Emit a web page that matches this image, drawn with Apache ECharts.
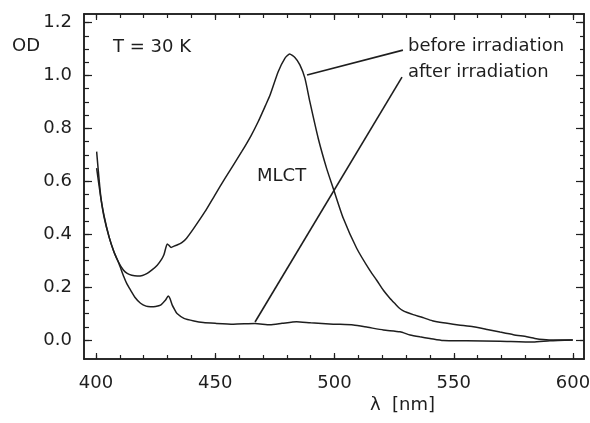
<!DOCTYPE html>
<html><head><meta charset="utf-8">
<script src="https://cdn.jsdelivr.net/npm/echarts@6/dist/echarts.min.js"></script>
<style>html,body{margin:0;padding:0;background:#fff}#c{width:590px;height:423px}</style>
</head><body><div id="c"></div>
<script>
// ---- data ----
const wavelengthBefore = [400.3, 402, 403.4, 405.5, 407.5, 409.6, 411.5, 413.1, 415, 417.3, 419.5, 421.5, 423.5, 425.7, 427.5, 428.5, 429.9, 430.6, 431.5, 433, 434, 436, 438, 441, 445.7, 450, 454.1, 461.1, 465, 468, 471, 473, 476.4, 479.2, 481.2, 483.4, 485.5, 487.6, 489.7, 493.2, 496.7, 499.5, 503.7, 509.3, 514.9, 517.7, 520.5, 523.3, 525.5, 527, 528.5, 530.5, 533, 537, 541, 545.6, 552, 558.2, 564, 569.4, 575, 580.6, 584, 587.5, 592, 596, 599.9];
const odBefore = [0.712, 0.545, 0.47, 0.39, 0.335, 0.292, 0.265, 0.252, 0.245, 0.242, 0.244, 0.252, 0.265, 0.283, 0.305, 0.322, 0.363, 0.358, 0.35, 0.356, 0.359, 0.368, 0.385, 0.422, 0.485, 0.55, 0.611, 0.712, 0.772, 0.825, 0.885, 0.926, 1.014, 1.065, 1.081, 1.068, 1.04, 0.99, 0.9, 0.762, 0.649, 0.573, 0.46, 0.347, 0.262, 0.226, 0.188, 0.157, 0.136, 0.122, 0.112, 0.104, 0.096, 0.085, 0.073, 0.065, 0.057, 0.05, 0.04, 0.03, 0.02, 0.012, 0.006, 0.002, 0.0, 0.0, 0.0];
const wavelengthAfter = [400.3, 402, 403.4, 405.5, 407.5, 409.6, 411.7, 413, 414.5, 416.5, 418.7, 421, 422.9, 425, 427.1, 429.2, 430.3, 431, 432, 433, 434, 436.9, 441.1, 445, 450, 457.6, 466.7, 473, 478, 484.1, 490, 499.5, 507.9, 514, 520.5, 527.5, 531.7, 535.8, 540, 545.6, 555.4, 569.4, 583.3, 590.3, 599.9];
const odAfter = [0.65, 0.54, 0.465, 0.39, 0.335, 0.29, 0.239, 0.212, 0.189, 0.16, 0.139, 0.128, 0.126, 0.127, 0.132, 0.151, 0.166, 0.158, 0.132, 0.115, 0.1, 0.082, 0.072, 0.066, 0.063, 0.06, 0.062, 0.058, 0.063, 0.069, 0.065, 0.06, 0.057, 0.048, 0.038, 0.031, 0.019, 0.012, 0.006, -0.002, -0.003, -0.005, -0.008, -0.003, 0.0];
// leader lines of the annotations (data units)
const leaderBefore = [[488.5, 1.002], [528.7, 1.096]];
const leaderAfter = [[466.7, 0.068], [528.3, 0.994]];
// tick positions / labels
const xMajorTicks = [400, 450, 500, 550, 600];
const xMinorTicks = [400, 410, 420, 430, 440, 450, 460, 470, 480, 490, 500, 510, 520, 530, 540, 550, 560, 570, 580, 590, 600];
const yMajorTicks = [0, 0.2, 0.4, 0.6, 0.8, 1.0, 1.2];
const yMinorTicks = [0, 0.05, 0.1, 0.15, 0.2, 0.25, 0.3, 0.35, 0.4, 0.45, 0.5, 0.55, 0.6, 0.65, 0.7, 0.75, 0.8, 0.85, 0.9, 0.95, 1.0, 1.05, 1.1, 1.15, 1.2];
const xRange = [395, 604.6];
const yRange = [-0.0718, 1.2325];
const texts = {yName: 'OD', temp: 'T = 30 K', band: 'MLCT', before: 'before irradiation', after: 'after irradiation', xName: 'λ  [nm]'};

const FONT = 'DejaVu Sans';
const INK = '#1e1e1e';
const zip = (a, b) => a.map((v, i) => [v, b[i]]);

function xAx(pos, ticks, len, labels) {
  return {
    type: 'value', position: pos, min: xRange[0], max: xRange[1],
    axisLine: {show: true, onZero: false, lineStyle: {color: INK, width: 1.5}},
    axisTick: {show: true, inside: true, length: len, customValues: ticks, lineStyle: {color: INK, width: 1.2}},
    axisLabel: labels ? {show: true, customValues: xMajorTicks, margin: 15, fontSize: 18, fontFamily: FONT, color: INK, formatter: v => String(v)} : {show: false},
    splitLine: {show: false}
  };
}
function yAx(pos, ticks, len, labels) {
  return {
    type: 'value', position: pos, min: yRange[0], max: yRange[1],
    axisLine: {show: true, onZero: false, lineStyle: {color: INK, width: 1.5}},
    axisTick: {show: true, inside: true, length: len, customValues: ticks, lineStyle: {color: INK, width: 1.2}},
    axisLabel: labels ? {show: true, customValues: yMajorTicks, margin: 12, fontSize: 18, fontFamily: FONT, color: INK, formatter: v => v.toFixed(1)} : {show: false},
    splitLine: {show: false}
  };
}

const chart = echarts.init(document.getElementById('c'), null, {renderer: 'canvas'});
const lineSeries = (name, data, w) => ({
  name, type: 'line', data, xAxisIndex: 0, yAxisIndex: 0,
  showSymbol: false, symbol: 'none', smooth: 0.2, animation: false,
  lineStyle: {color: INK, width: w}
});
chart.setOption({
  animation: false,
  backgroundColor: '#fff',
  grid: {left: 84, right: 6, top: 14, bottom: 64, containLabel: false, outerBoundsMode: 'none'},
  xAxis: [
    xAx('bottom', xMinorTicks, 4, true),
    xAx('top', xMinorTicks, 4, false),
    xAx('bottom', xMajorTicks, 6, false),
    xAx('top', xMajorTicks, 6, false)
  ],
  yAxis: [
    yAx('left', yMajorTicks, 8, true),
    yAx('left', yMinorTicks, 5, false),
    yAx('right', yMajorTicks, 8, false),
    yAx('right', yMinorTicks, 4, false)
  ],
  series: [
    lineSeries('before irradiation', zip(wavelengthBefore, odBefore), 1.5),
    lineSeries('after irradiation', zip(wavelengthAfter, odAfter), 1.5),
    Object.assign(lineSeries('leader before', leaderBefore, 1.6), {smooth: false}),
    Object.assign(lineSeries('leader after', leaderAfter, 1.6), {smooth: false})
  ],
  graphic: [
    {type: 'text', left: 12, top: 37, style: {text: texts.yName, fontSize: 18, fontFamily: FONT, fill: INK}},
    {type: 'text', left: 113, top: 38, style: {text: texts.temp, fontSize: 18, fontFamily: FONT, fill: INK}},
    {type: 'text', left: 257, top: 167, style: {text: texts.band, fontSize: 18, fontFamily: FONT, fill: INK}},
    {type: 'text', left: 408, top: 37, style: {text: texts.before, fontSize: 18, fontFamily: FONT, fill: INK}},
    {type: 'text', left: 408, top: 63, style: {text: texts.after, fontSize: 18, fontFamily: FONT, fill: INK}},
    {type: 'text', left: 370, top: 396, style: {text: texts.xName, fontSize: 18, fontFamily: FONT, fill: INK}}
  ]
});
</script></body></html>
